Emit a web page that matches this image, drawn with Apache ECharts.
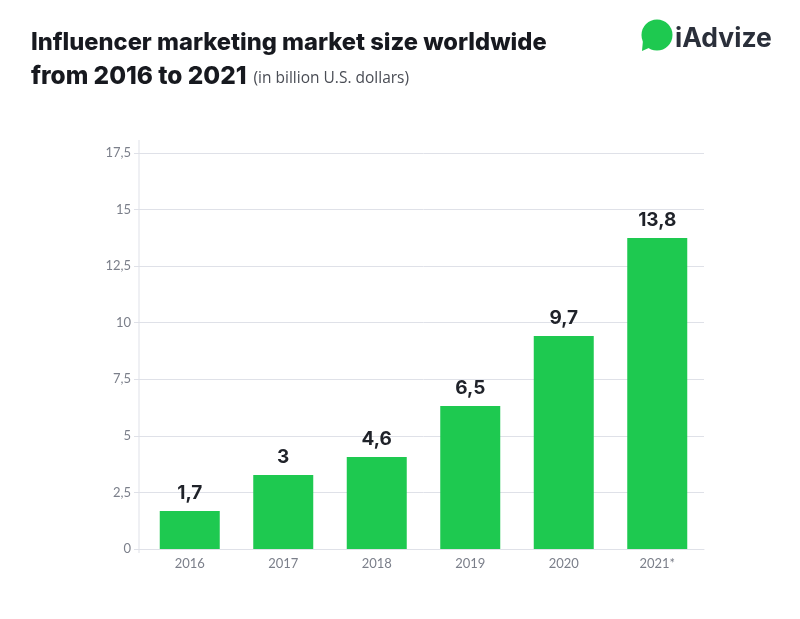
<!DOCTYPE html>
<html>
<head>
<meta charset="utf-8">
<title>Influencer marketing market size</title>
<script src="https://cdn.jsdelivr.net/npm/echarts@6/dist/echarts.min.js"></script>
<style>
  html, body { margin: 0; padding: 0; background: #fff; }
  #main { width: 800px; height: 619px; }
</style>
</head>
<body>
<div id="main"></div>
<script>
// bar heights, they do not quite agree with the printed labels
const years = ['2016', '2017', '2018', '2019', '2020', '2021*'];
const barValues = [1.68, 3.27, 4.07, 6.32, 9.41, 13.74];
const barLabels = ['1,7', '3', '4,6', '6,5', '9,7', '13,8'];
const yTicks = ['0', '2,5', '5', '7,5', '10', '12,5', '15', '17,5'];

const gridColor = '#dfe1e8';
const textFont = 'Lato';
const chart = echarts.init(document.getElementById('main'), null, { renderer: 'canvas' });

chart.setOption({
  backgroundColor: '#fff',
  animation: false,
  title: [{
    left: 26,
    top: 21,
    textStyle: {
      rich: {
        big: { fontFamily: 'Inter', fontSize: 23.7, fontWeight: 800, color: '#17191f', lineHeight: 34 },
        big2: { fontFamily: 'Inter', fontSize: 24.4, fontWeight: 800, color: '#17191f', lineHeight: 34 },
        small: { fontFamily: 'Open Sans', fontSize: 15.5, fontWeight: 400, color: '#4a4d55', lineHeight: 34, padding: [3, 0, 0, 2] }
      }
    },
    text: '{big|Influencer marketing market size worldwide}\n{big2|from 2016 to 2021} {small|(in billion U.S. dollars)}'
  }],
  grid: { left: 143, right: 96, top: 153, bottom: 70 },
  xAxis: {
    type: 'category',
    data: years,
    axisLine: { lineStyle: { color: gridColor, width: 1 } },
    axisTick: { show: false },
    axisLabel: { color: '#7b7f8a', fontSize: 13, fontFamily: textFont, margin: 8 }
  },
  yAxis: {
    type: 'value',
    min: 0,
    max: 17.5,
    interval: 2.5,
    axisLine: { show: false },
    axisTick: { show: true, length: 9, lineStyle: { color: gridColor } },
    axisLabel: {
      color: '#7b7f8a',
      fontSize: 13,
      fontFamily: textFont,
      margin: 12,
      formatter: (v) => yTicks[Math.round(v / 2.5)]
    },
    splitLine: { lineStyle: { color: gridColor, width: 1 } }
  },
  series: [{
    type: 'bar',
    data: barValues,
    barWidth: 60,
    itemStyle: { color: '#1ec950' },
    label: {
      show: true,
      position: 'top',
      distance: 8,
      color: '#1f2229',
      fontFamily: 'Inter',
      fontWeight: 700,
      fontSize: 19,
      formatter: (p) => barLabels[p.dataIndex]
    }
  }],
  graphic: [
    // axis line runs past the plot at both ends
    { type: 'line', shape: { x1: 139, y1: 140, x2: 139, y2: 553 }, style: { stroke: gridColor, lineWidth: 1 } },
    // logo
    { type: 'circle', shape: { cx: 657, cy: 35, r: 15.5 }, style: { fill: '#1ec950' } },
    { type: 'polygon', shape: { points: [[643, 40], [651, 47], [642, 51]] }, style: { fill: '#1ec950' } },
    {
      type: 'text',
      left: 675,
      top: 26,
      style: { text: 'iAdvize', fill: '#2a2f3a', font: '700 26.5px Inter' }
    }
  ]
});
</script>
</body>
</html>
